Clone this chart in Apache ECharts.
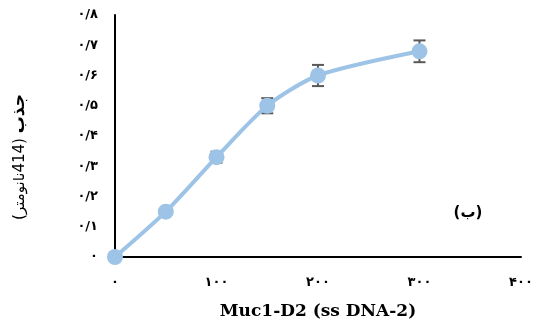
<!DOCTYPE html>
<html>
<head>
<meta charset="utf-8">
<script src="https://cdn.jsdelivr.net/npm/echarts@6/dist/echarts.min.js"></script>
<style>
html,body{margin:0;padding:0;background:#fff;}
#c{width:543px;height:325px;}
</style>
</head>
<body>
<div id="c"></div>
<script>
// Data
var xValues = [0, 50, 100, 150, 200, 300];
var yValues = [0, 0.15, 0.33, 0.50, 0.60, 0.68];
var yErrors = [0, 0.01, 0.018, 0.025, 0.035, 0.036];
var xTickLabels = ['۰', '۱۰۰', '۲۰۰', '۳۰۰', '۴۰۰'];
var yTickLabels = ['۰', '۰/۱', '۰/۲', '۰/۳', '۰/۴', '۰/۵', '۰/۶', '۰/۷', '۰/۸'];
var xTitle = 'Muc1-D2 (ss DNA-2)';
var yTitleBold = 'جذب';
var yTitleRegular = '(414نانومتر)';
var panelLabel = '(ب)';

var lineColor = '#9DC3E6';
var errColor = '#595959';

var lineData = xValues.map(function (x, i) { return [x, yValues[i]]; });
var errData = xValues.map(function (x, i) { return [x, yValues[i], yErrors[i]]; });

var chart = echarts.init(document.getElementById('c'), null, {renderer: 'canvas'});
chart.setOption({
  animation: false,
  backgroundColor: '#ffffff',
  grid: {left: 115, right: 22, top: 15, bottom: 68, containLabel: false},
  xAxis: {
    type: 'value', min: 0, max: 400, interval: 100,
    axisLine: {show: true, onZero: false, lineStyle: {color: '#000', width: 2}},
    axisTick: {show: false},
    splitLine: {show: false},
    axisLabel: {
      margin: 19, color: '#000', fontSize: 13, fontWeight: 'bold', fontFamily: 'DejaVu Sans',
      formatter: function (v) { return xTickLabels[Math.round(v / 100)]; }
    },
    name: xTitle, nameLocation: 'middle', nameGap: 46,
    nameTextStyle: {color: '#000', fontSize: 17, fontWeight: 'bold', fontFamily: 'DejaVu Serif'}
  },
  yAxis: {
    type: 'value', min: 0, max: 0.8, interval: 0.1,
    axisLine: {show: true, onZero: false, lineStyle: {color: '#000', width: 2}},
    axisTick: {show: false},
    splitLine: {show: false},
    axisLabel: {
      margin: 17, color: '#000', fontSize: 13, fontWeight: 'bold', fontFamily: 'DejaVu Sans',
      formatter: function (v) { return yTickLabels[Math.round(v * 10)]; }
    }
  },
  graphic: [
    {
      type: 'text', x: 20, y: 157, rotation: Math.PI / 2,
      style: {
        text: '{r|\u202B' + yTitleRegular + '\u202C} {b|' + yTitleBold + '}',
        align: 'center', verticalAlign: 'middle',
        rich: {
          r: {fontSize: 15, fontFamily: 'DejaVu Sans', fill: '#000'},
          b: {fontSize: 17, fontWeight: 'bold', fontFamily: 'DejaVu Sans', fill: '#000'}
        },
        fontSize: 15, fontFamily: 'DejaVu Sans', fill: '#000'
      }
    },
    {
      type: 'text', x: 468, y: 213,
      style: {text: panelLabel, align: 'center', verticalAlign: 'middle', fontSize: 15, fontWeight: 'bold', fontFamily: 'DejaVu Sans', fill: '#000'}
    }
  ],
  series: [
    {
      type: 'custom',
      z: 1,
      data: errData,
      renderItem: function (params, api) {
        var x = api.value(0), y = api.value(1), e = api.value(2);
        if (!e) return null;
        var top = api.coord([x, y + e]);
        var bot = api.coord([x, y - e]);
        var hw = 6;
        var st = {stroke: errColor, lineWidth: 2};
        return {
          type: 'group',
          children: [
            {type: 'line', shape: {x1: top[0], y1: top[1], x2: bot[0], y2: bot[1]}, style: st},
            {type: 'line', shape: {x1: top[0] - hw, y1: top[1], x2: top[0] + hw, y2: top[1]}, style: st},
            {type: 'line', shape: {x1: bot[0] - hw, y1: bot[1], x2: bot[0] + hw, y2: bot[1]}, style: st}
          ]
        };
      }
    },
    {
      type: 'line',
      z: 3,
      data: lineData,
      smooth: 0.25,
      symbol: 'circle',
      symbolSize: 16,
      itemStyle: {color: lineColor},
      lineStyle: {color: lineColor, width: 4},
      clip: false
    }
  ]
});
</script>
</body>
</html>
